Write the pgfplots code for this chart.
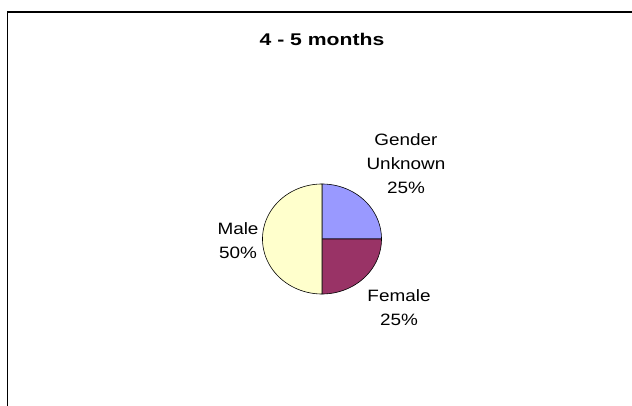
\documentclass[border=0pt]{standalone}
\usepackage{pgfplots}
\usepackage{pgfplotstable}
\pgfplotsset{compat=1.18}
\usepackage{fontspec}
\setmainfont{Liberation Sans}
\newfontfamily\lblfont[FakeStretch=1.15]{Liberation Sans}
\newfontfamily\ttlfont[FakeStretch=1.25]{Liberation Sans}
\definecolor{cUnknown}{HTML}{9999FF}
\definecolor{cFemale}{HTML}{993366}
\definecolor{cMale}{HTML}{FFFFCC}
\pgfplotstableread{
label value
Unknown 25
Female 25
Male 50
}\piedata
\tikzset{lbl/.style={font=\lblfont\fontsize{16.5}{24}\selectfont, align=center, inner sep=0pt}}
\begin{document}%
\begin{tikzpicture}
\pgfplotstablegetelem{0}{value}\of\piedata \let\vA\pgfplotsretval
\pgfplotstablegetelem{1}{value}\of\piedata \let\vB\pgfplotsretval
\pgfplotstablegetelem{2}{value}\of\piedata \let\vC\pgfplotsretval
\pgfmathsetmacro\tot{\vA+\vB+\vC}
\pgfmathsetmacro\aZero{90}
\pgfmathsetmacro\aOne{90-\vA/\tot*360}
\pgfmathsetmacro\aTwo{\aOne-\vB/\tot*360}
\pgfmathsetmacro\aThree{\aTwo-\vC/\tot*360}
\useasboundingbox[fill=white] (0,0) rectangle (632bp,406bp);
\begin{axis}[
  overlay,
  scale only axis, width=632bp, height=406bp,
  xmin=0, xmax=632, ymin=0, ymax=406,
  hide axis, ticks=none, clip=false, anchor=south west, at={(0,0)},
]
\draw[black, line width=1.2bp] (axis cs:7.5,-2) -- (axis cs:7.5,394) -- (axis cs:634,394);
% slices
\addplot[fill=cUnknown, draw=black, line width=0.6bp, domain=\aOne:\aZero, samples=60, variable=\t]
  ({322+59.5*cos(\t)},{167+55*sin(\t)}) -- (axis cs:322,167) -- cycle;
\addplot[fill=cFemale, draw=black, line width=0.6bp, domain=\aTwo:\aOne, samples=60, variable=\t]
  ({322+59.5*cos(\t)},{167+55*sin(\t)}) -- (axis cs:322,167) -- cycle;
\addplot[fill=cMale, draw=black, line width=0.6bp, domain=\aThree:\aTwo, samples=120, variable=\t]
  ({322+59.5*cos(\t)},{167+55*sin(\t)}) -- (axis cs:322,167) -- cycle;
\node[font=\ttlfont\bfseries\fontsize{17}{20}\selectfont, inner sep=0pt] at (axis cs:322,367) {4 - 5 months};
\node[lbl] at (axis cs:406,242) {Gender\\Unknown\\25\%};
\node[lbl] at (axis cs:238,165) {Male\\50\%};
\node[lbl] at (axis cs:399,98.5) {Female\\25\%};
\end{axis}
\end{tikzpicture}%
\end{document}
